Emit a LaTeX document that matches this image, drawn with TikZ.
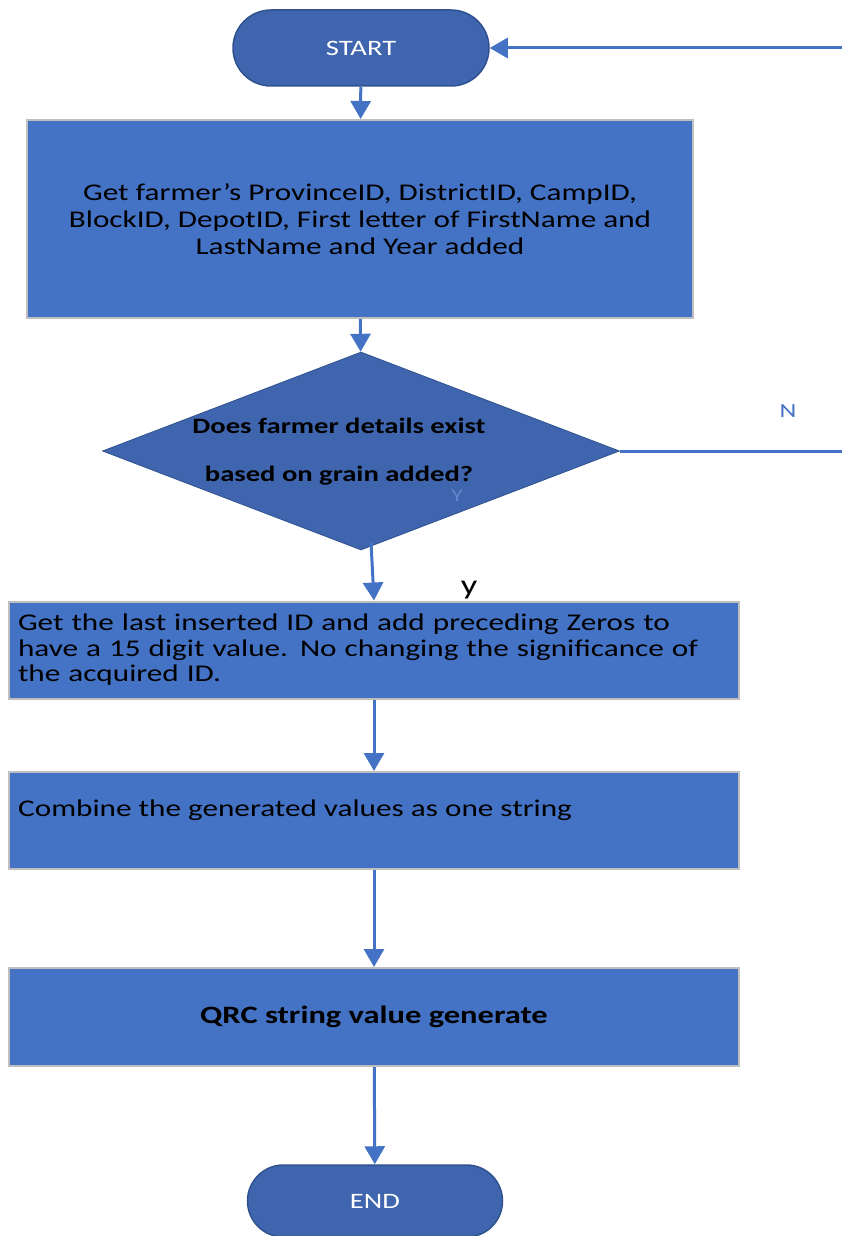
\documentclass[tikz,border=0pt]{standalone}
\usepackage{fontspec}
\setmainfont[FakeStretch=1.3]{Carlito}
\usetikzlibrary{shapes.misc,shapes.geometric,arrows.meta,positioning}

\definecolor{boxblue}{HTML}{4472C4}
\definecolor{darkblue}{HTML}{3F65AE}
\definecolor{edgeblue}{HTML}{2F528F}
\definecolor{boxedge}{HTML}{BFBFBF}

\begin{document}
\begin{tikzpicture}[x=1pt, y=-1pt,
    term/.style={rounded rectangle, fill=darkblue, draw=edgeblue, line width=1.5pt,
        minimum width=256pt, minimum height=76pt, inner sep=0pt,
        text=white, font=\fontsize{22}{24}\selectfont},
    procbox/.style={rectangle, fill=boxblue, draw=boxedge, line width=2pt,
        inner xsep=9pt, inner ysep=0pt, font=\fontsize{24}{27}\selectfont},
    decision/.style={diamond, fill=darkblue, draw=edgeblue, line width=0.8pt,
        minimum width=517pt, minimum height=198pt, inner sep=0pt},
    flow/.style={draw=boxblue, line width=3pt, -{Triangle[width=20pt,length=18pt]}},
    link/.style={draw=boxblue, line width=3pt},
    tag/.style={text=boxblue, font=\fontsize{20}{22}\selectfont, inner sep=0pt}
]
    % frame of the page
    \useasboundingbox (0,0) rectangle (842,1236);

    % Terminals
    \node[term] (start) at (361,48) {START};
    \node[term, minimum width=255pt, minimum height=72pt] (end) at (375,1201) {END};

    % Process boxes
    \node[procbox, minimum width=666pt, minimum height=198pt, align=center] (getid) at (360,219)
        {Get farmer’s ProvinceID, DistrictID, CampID,\\
         BlockID, DepotID, First letter of FirstName and\\
         LastName and Year added};
    \node[procbox, minimum width=730pt, minimum height=97pt, text width=712pt, align=left,
        font=\fontsize{24}{25.5}\selectfont] (zeros) at (374,650)
        {Get the last inserted ID and add preceding Zeros to\\
         have a 15 digit value. No changing the significance of\\
         the acquired ID.};
    \node[procbox, minimum width=730pt, minimum height=97pt] (combine) at (374,820.5) {};
    \node[anchor=west, inner sep=0pt, font=\fontsize{24}{27}\selectfont] (combtxt) at (18,810)
        {Combine the generated values as one string};
    \node[procbox, minimum width=730pt, minimum height=98pt, font=\bfseries\fontsize{25}{27}\selectfont] (qrc) at (374,1017)
        {QRC string value generate};

    % Decision
    \node[decision] (dec) at (361,451) {};
    \node[align=center, inner sep=0pt, font=\bfseries\fontsize{22}{24}\selectfont] (dectxt) at (339,452)
        {Does farmer details exist\\[24pt] based on grain added?};
    \coordinate (decout) at (371,542);

    % Loose ends at the right edge
    \coordinate (noright) at (842,451);
    \coordinate (backright) at (842,48);

    % Labels
    \node[tag] (nlbl) at (788,411) {N};
    \node[tag, font=\fontsize{18}{20}\selectfont, text=boxblue!85!white] (ylbl) at (457,496) {Y};
    \node[inner sep=0pt, font=\fontsize{28}{28}\selectfont] (ylow) at (469,590) {y};

    % Connectors
    \draw[flow] (start) -- (getid);
    \draw[flow] (getid) -- (dec);
    \draw[flow] (decout) -- (zeros.north);
    \draw[flow] (zeros) -- (combine);
    \draw[flow] (combine) -- (qrc);
    \draw[flow] (qrc) -- (end);
    \draw[link] (dec.east) -- (noright);
    \draw[flow] (backright) -- (start.east);
\end{tikzpicture}
\end{document}
